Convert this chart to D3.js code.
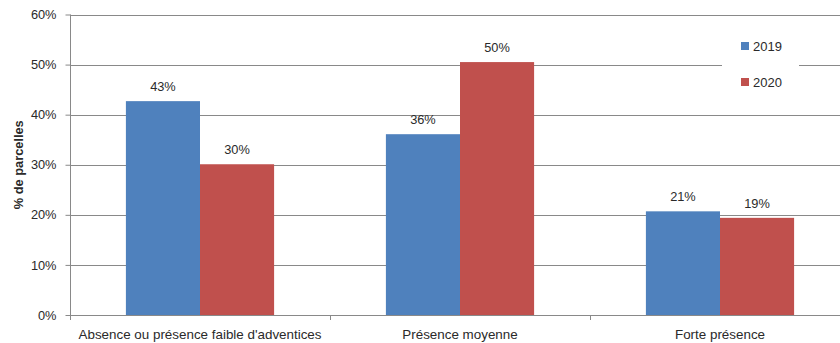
<!DOCTYPE html>
<html><head><meta charset="utf-8">
<script src="https://cdn.jsdelivr.net/npm/d3@7"></script>
<style>body{margin:0;background:#fff;}svg{display:block;font-family:"Liberation Sans",Arial,sans-serif;}</style>
</head><body>
<svg id="chart" width="840" height="343"></svg>
<script>
const categories = ["Absence ou présence faible d'adventices", "Présence moyenne", "Forte présence"];
const seriesNames = ["2019", "2020"];
const values2019 = [0.427, 0.361, 0.207];
const values2020 = [0.301, 0.505, 0.194];
const labels2019 = ["43%", "36%", "21%"];
const labels2020 = ["30%", "50%", "19%"];
const yTicks = [0, 0.1, 0.2, 0.3, 0.4, 0.5, 0.6];
const colors = ["#4F81BD", "#C0504D"];

(function () {
const svg = d3.select("#chart");
const pL = 70, pR = 850, pT = 14.5, pB = 315;
const y = d3.scaleLinear().domain([0, 0.6]).range([pB, pT]);
const x = d3.scaleBand().domain(categories).range([pL, pR]).paddingInner(0.43).paddingOuter(0.215);
const xs = d3.scaleBand().domain(seriesNames).range([0, x.bandwidth()]);
const grid = "#898989";
const font = "Liberation Sans, Arial, sans-serif";
const txt = "#2a2a2a";

// gridlines
svg.append("g").selectAll("line").data(yTicks.slice(1)).join("line")
  .attr("x1", pL).attr("x2", pR)
  .attr("y1", d => Math.round(y(d)) + 0.5).attr("y2", d => Math.round(y(d)) + 0.5)
  .attr("stroke", grid).attr("stroke-width", 1);

// bars
const series = [values2019, values2020];
const labs = [labels2019, labels2020];
series.forEach((vals, si) => {
  const g = svg.append("g");
  g.selectAll("rect").data(categories).join("rect")
    .attr("x", c => x(c) + xs(seriesNames[si]))
    .attr("width", xs.bandwidth())
    .attr("y", (c, i) => y(vals[i]))
    .attr("height", (c, i) => pB - y(vals[i]))
    .attr("fill", colors[si]);
  g.selectAll("text").data(categories).join("text")
    .attr("x", c => x(c) + xs(seriesNames[si]) + xs.bandwidth() / 2)
    .attr("y", (c, i) => y(vals[i]) - 10)
    .attr("text-anchor", "middle").attr("font-size", 12.8).attr("fill", txt)
    .text((c, i) => labs[si][i]);
});

// y axis
const yAxis = d3.axisLeft(y).tickValues(yTicks).tickFormat(d3.format(".0%")).tickSize(5).tickPadding(9);
const ya = svg.append("g").attr("transform", `translate(${pL + 0.5},0)`).call(yAxis);
ya.select(".domain").attr("stroke", grid).attr("d", `M0,${pT}V${pB}`);
ya.selectAll(".tick line").attr("stroke", grid);
ya.selectAll(".tick text").attr("font-size", 12.8).attr("fill", txt).attr("font-family", font);

// x axis
const xAxis = d3.axisBottom(x).tickSize(0).tickPadding(14);
const xa = svg.append("g").attr("transform", `translate(0,${pB + 0.5})`).call(xAxis);
xa.select(".domain").attr("stroke", grid).attr("d", `M${pL},0H${pR}`);
xa.selectAll(".tick text").attr("font-size", 13.4).attr("fill", txt).attr("font-family", font);
// category separators
const seps = categories.map(c => x(c) - x.step() * x.paddingInner() / 2);
svg.append("g").selectAll("line").data(seps.concat([pR])).join("line")
  .attr("x1", d => Math.round(d) + 0.5).attr("x2", d => Math.round(d) + 0.5)
  .attr("y1", pB).attr("y2", pB + 5).attr("stroke", grid);

// y title
svg.append("text").attr("transform", `translate(23,${(pT + pB) / 2}) rotate(-90)`)
  .attr("text-anchor", "middle").attr("font-size", 12.8).attr("font-weight", "bold").attr("fill", txt)
  .text("% de parcelles");

// legend
const lg = svg.append("g");
lg.append("rect").attr("x", 722).attr("y", 24).attr("width", 77).attr("height", 80).attr("fill", "#fff");
seriesNames.forEach((s, i) => {
  lg.append("rect").attr("x", 741).attr("y", 42 + i * 36).attr("width", 8).attr("height", 8).attr("fill", colors[i]);
  lg.append("text").attr("x", 753).attr("y", 51 + i * 36).attr("font-size", 13).attr("fill", txt).text(s);
});
})();
</script>
</body></html>
